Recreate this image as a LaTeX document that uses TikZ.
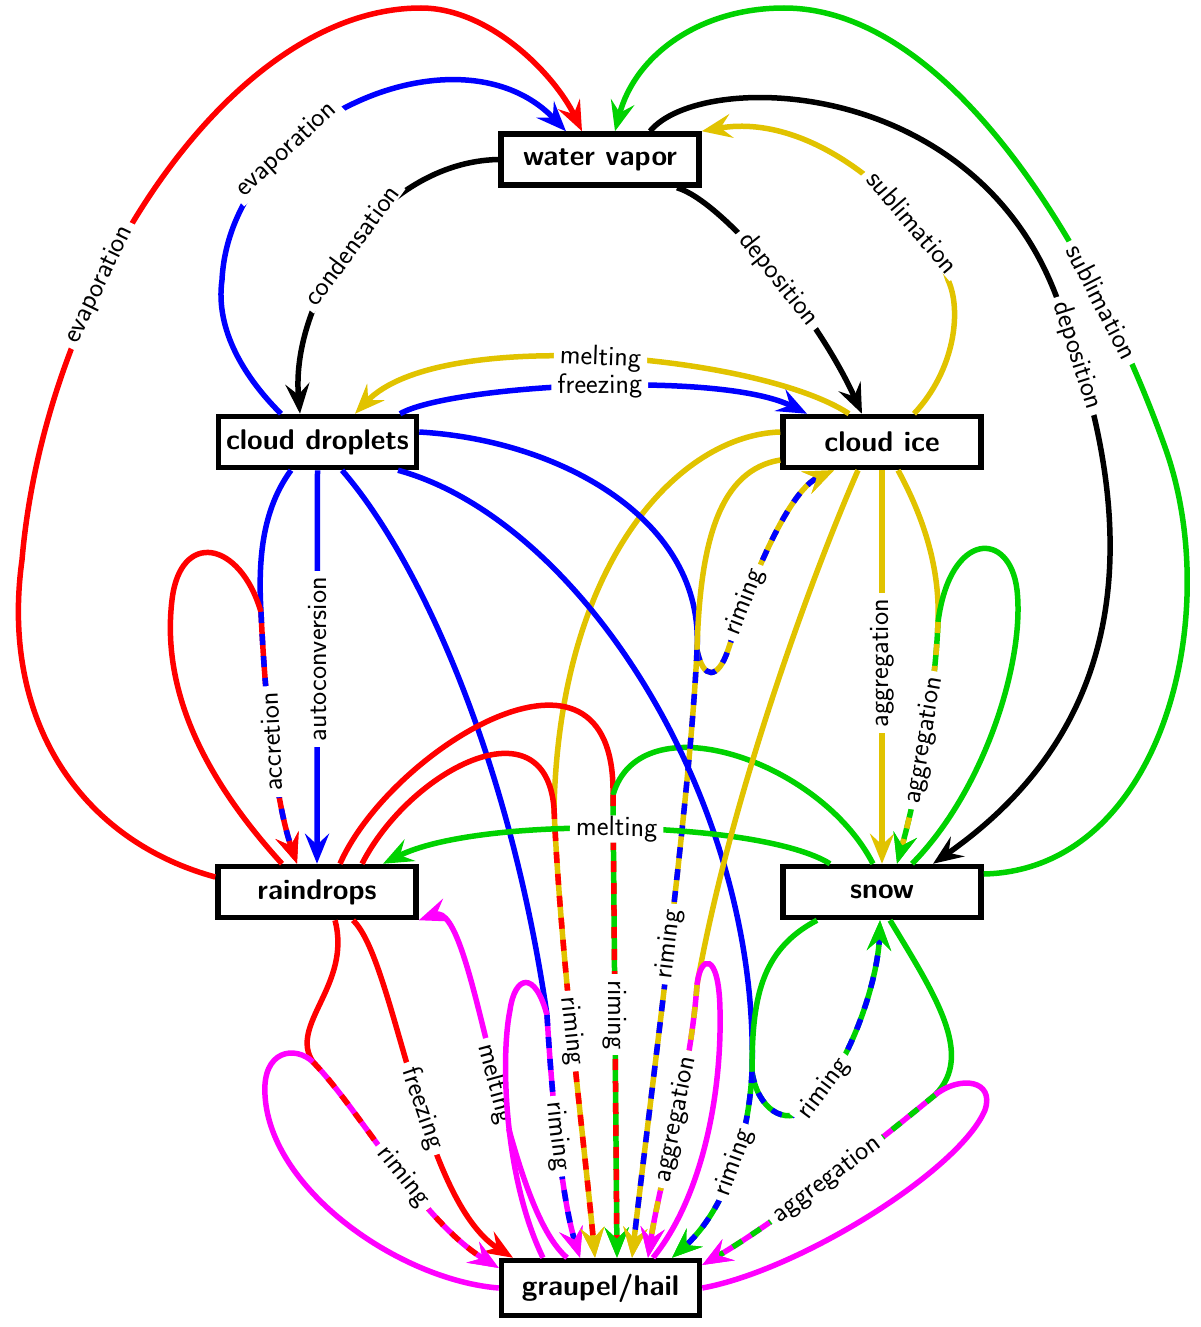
\documentclass[tikz,border=0pt]{standalone}
\usetikzlibrary{arrows.meta}
\definecolor{cR}{RGB}{255,0,0}
\definecolor{cB}{RGB}{0,0,255}
\definecolor{cG}{RGB}{0,210,0}
\definecolor{cY}{RGB}{225,195,0}
\definecolor{cM}{RGB}{255,0,255}
\newcommand\twoc[4]{%
  \draw[ln,#1,arw] #3;
  \draw[ln,#2,dash pattern=on 11pt off 11pt,-{Stealth[length=30pt,width=24pt,inset=11pt,color=#1]}] #3 #4;}
\begin{document}
\begin{tikzpicture}[x=1pt,y=-1pt,
  pbox/.style={draw,line width=5.5pt,fill=white,minimum width=198pt,minimum height=51pt,inner sep=0pt,font=\sffamily\bfseries\fontsize{28.5}{34}\selectfont},
  ln/.style={line width=5.5pt},
  arw/.style={-{Stealth[length=30pt,width=24pt,inset=11pt]}},
  lbl/.style={fill=white,text=black,inner xsep=6pt,inner ysep=1pt,font=\sffamily\fontsize{28}{33}\selectfont},
  sl/.style={lbl,sloped}]
\useasboundingbox (0,0) rectangle (1200,1327);

\node[pbox] (wv) at (600,159.5) {water vapor};
\node[pbox] (cd) at (317.5,442) {cloud droplets};
\node[pbox] (ci) at (882,442) {cloud ice};
\node[pbox] (rd) at (317,892) {raindrops};
\node[pbox] (sn) at (882,892) {snow};
\node[pbox,minimum height=55pt] (gh) at (600.5,1288) {graupel/hail};

% condensation
\draw[ln,arw] (wv.west) .. controls (380,162) and (290,300) .. ([xshift=-17.5pt]cd.north) node[sl,pos=0.5]{condensation};
% evaporation (cloud droplets)
\draw[ln,cB,arw] ([xshift=-36.5pt]cd.north) .. controls (245,378) and (215,330) .. (222,280) .. controls (230,120) and (460,20) .. ([xshift=-34pt]wv.north) node[sl,pos=0.32]{evaporation};
% evaporation (raindrops)
\draw[ln,cR,arw] ([yshift=15pt]rd.west) .. controls (80,840) and (0,720) .. (22,560) .. controls (45,290) and (230,8) .. (421,8) node[sl,pos=0.35]{evaporation} .. controls (490,8) and (555,75) .. ([xshift=-18pt]wv.north);
% deposition to cloud ice
\draw[ln,arw] ([xshift=77pt]wv.south) .. controls (720,200) and (815,310) .. ([xshift=-20pt]ci.north) node[sl,pos=0.55]{deposition};
% sublimation cloud ice
\draw[ln,cY,arw] ([xshift=32pt]ci.north) .. controls (955,370) and (962,310) .. (948,280) .. controls (930,220) and (820,110) .. (wv.north east) node[sl,pos=0.28]{sublimation};
% sublimation snow
\draw[ln,cG,arw] ([yshift=18pt]sn.east) .. controls (1160,870) and (1225,619) .. (1166,450) .. controls (1100,262) and (954,8) .. (784,8) node[sl,pos=0.25]{sublimation} .. controls (700,8) and (635,55) .. ([xshift=15pt]wv.north);
% deposition to snow
\draw[ln,arw] ([xshift=50pt]wv.north) .. controls (700,70) and (970,75) .. (1055,293) .. controls (1160,560) and (1110,740) .. ([xshift=51pt]sn.north) node[sl,pos=0.08]{deposition};
% melting cloud ice -> cloud droplets
\draw[ln,cY,arw] ([xshift=-33pt]ci.north) .. controls (760,355) and (440,325) .. ([xshift=37.5pt]cd.north) node[sl,pos=0.5]{melting};
% freezing cloud droplets -> cloud ice
\draw[ln,cB,arw] ([xshift=82.5pt]cd.north) .. controls (450,385) and (720,370) .. ([xshift=-75pt]ci.north) node[sl,pos=0.52]{freezing};
% autoconversion
\draw[ln,cB,arw] (cd.south) -- (rd.north) node[lbl,pos=0.48,rotate=90]{autoconversion};
% accretion
\coordinate (macc) at (261,612);
\draw[ln,cB] ([xshift=-26.5pt]cd.south) .. controls (262,510) and (258,560) .. (macc);
\draw[ln,cR] ([xshift=-35pt]rd.north) .. controls (215,790) and (160,700) .. (172,600) .. controls (180,530) and (240,540) .. (macc);
\twoc{cR}{cB}{(macc) .. controls (265,700) and (275,800) .. ([xshift=-20pt]rd.north)}{node[lbl,pos=0.48,rotate=92.5]{accretion}}
% freezing raindrops -> graupel
\draw[ln,cR,arw] ([xshift=36pt]rd.south) .. controls (395,960) and (420,1200) .. ([xshift=-87.5pt]gh.north) node[sl,pos=0.56]{freezing};
% melting graupel -> raindrops
\draw[ln,cM,arw] ([xshift=-33.5pt]gh.north) .. controls (500,1200) and (475,900) .. (rd.south east) node[sl,pos=0.45]{melting};
% riming raindrops + graupel
\coordinate (mrr) at (313,1062);
\draw[ln,cR] ([xshift=18pt]rd.south) .. controls (352,985) and (288,1025) .. (mrr);
\draw[ln,cM] (gh.west) .. controls (400,1280) and (270,1190) .. (265,1095) .. controls (262,1050) and (295,1045) .. (mrr);
\twoc{cM}{cR}{(mrr) .. controls (360,1110) and (420,1220) .. ([yshift=20pt]gh.west)}{node[sl,pos=0.55]{riming}}
% riming cloud droplets + graupel
\coordinate (mcg) at (547,1015);
\draw[ln,cB] ([xshift=24.5pt]cd.south) .. controls (420,560) and (510,760) .. (mcg);
\draw[ln,cM] ([xshift=-57.5pt]gh.north) .. controls (505,1180) and (500,1060) .. (510,1010) .. controls (515,975) and (535,970) .. (mcg);
\twoc{cM}{cB}{(mcg) .. controls (552,1100) and (562,1200) .. ([xshift=-20.5pt]gh.north)}{node[sl,pos=0.46]{riming}}
% riming cloud ice + raindrops
\coordinate (myr) at (554,808);
\draw[ln,cY] ([yshift=10pt]ci.west) .. controls (680,435) and (560,560) .. (myr);
\draw[ln,cR] ([xshift=45pt]rd.north) .. controls (410,770) and (545,700) .. (myr);
\twoc{cY}{cR}{(myr) .. controls (560,950) and (585,1150) .. ([xshift=-5.5pt]gh.north)}{node[sl,pos=0.47]{riming}}
% riming snow + raindrops
\coordinate (mrg) at (613,795);
\draw[ln,cR] ([xshift=23pt]rd.north) .. controls (390,750) and (616,610) .. (mrg);
\draw[ln,cG] ([xshift=-9pt]sn.north) .. controls (820,760) and (640,700) .. (mrg);
\twoc{cG}{cR}{(mrg) -- ([xshift=16.5pt]gh.north)}{node[lbl,pos=0.475,rotate=-90]{riming}}
% riming cloud droplets + cloud ice
\coordinate (mby) at (697,650);
\draw[ln,cB] ([yshift=10pt]cd.east) .. controls (560,440) and (705,520) .. (mby);
\draw[ln,cY] ([yshift=-18pt]ci.west) .. controls (720,470) and (700,540) .. (mby);
\twoc{cY}{cB}{(mby) .. controls (703,680) and (718,680) .. (728,650) .. controls (755,570) and (790,490) .. ([xshift=-48pt]ci.south)}{node[sl,pos=0.2]{riming}}
\twoc{cY}{cB}{(mby) .. controls (690,800) and (650,1100) .. ([xshift=31.5pt]gh.north)}{node[sl,pos=0.49]{riming}}
% riming cloud droplets + snow
\coordinate (mbg) at (752,1072);
\draw[ln,cB] ([xshift=80.5pt]cd.south) .. controls (580,520) and (760,800) .. (mbg);
\draw[ln,cG] ([xshift=-65pt]sn.south) .. controls (760,950) and (752,1000) .. (mbg);
\twoc{cG}{cB}{(mbg) .. controls (758,1110) and (785,1125) .. (805,1110) .. controls (850,1070) and (878,980) .. ([xshift=-2pt]sn.south)}{node[sl,pos=0.15]{riming}}
\twoc{cG}{cB}{(mbg) .. controls (748,1150) and (720,1215) .. ([xshift=71.5pt]gh.north)}{node[sl,pos=0.42]{riming}}
% aggregation cloud ice -> snow
\draw[ln,cY,arw] (ci.south) -- (sn.north) node[lbl,pos=0.49,rotate=90]{aggregation};
% aggregation cloud ice + snow
\coordinate (myg) at (938,622);
\draw[ln,cY] ([xshift=16pt]ci.south) .. controls (925,520) and (940,570) .. (myg);
\draw[ln,cG] ([xshift=30pt]sn.north) .. controls (985,790) and (1025,660) .. (1017,590) .. controls (1010,530) and (950,530) .. (myg);
\twoc{cG}{cY}{(myg) .. controls (935,700) and (915,800) .. ([xshift=15pt]sn.north)}{node[sl,pos=0.47]{aggregation}}
% melting snow -> raindrops
\draw[ln,cG,arw] ([xshift=-52pt]sn.north) .. controls (760,820) and (480,815) .. ([xshift=66pt]rd.north) node[sl,pos=0.5]{melting};
% aggregation cloud ice + graupel
\coordinate (mym) at (697,985);
\draw[ln,cY] ([xshift=-24pt]ci.south) .. controls (810,580) and (730,800) .. (mym);
\draw[ln,cM] ([xshift=52.5pt]gh.north) .. controls (700,1200) and (722,1100) .. (720,1010) .. controls (719,950) and (700,955) .. (mym);
\twoc{cM}{cY}{(mym) .. controls (690,1080) and (660,1180) .. ([xshift=47.5pt]gh.north)}{node[sl,pos=0.47]{aggregation}}
% aggregation snow + graupel
\coordinate (mgm) at (935,1095);
\draw[ln,cG] ([xshift=8pt]sn.south) .. controls (935,995) and (975,1055) .. (mgm);
\draw[ln,cM] (gh.east) .. controls (800,1270) and (960,1170) .. (985,1110) .. controls (995,1080) and (960,1075) .. (mgm);
\twoc{cM}{cG}{(mgm) .. controls (880,1140) and (780,1220) .. ([yshift=23pt]gh.east)}{node[sl,pos=0.5]{aggregation}}
\end{tikzpicture}
\end{document}
